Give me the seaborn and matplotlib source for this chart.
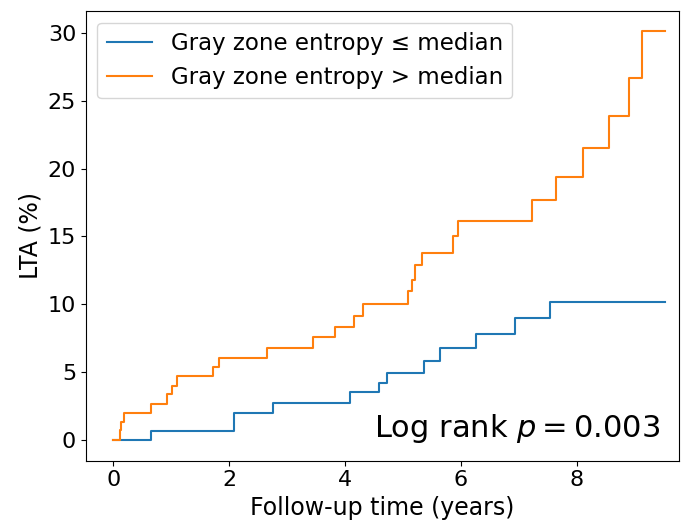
import matplotlib
matplotlib.use("Agg")
import matplotlib.pyplot as plt
import seaborn as sns
import pandas as pd

# Step data (years, cumulative LTA %)
low_time = [0.0, 0.65, 2.09, 2.75, 4.09, 4.58, 4.73, 5.37, 5.64, 6.26, 6.93, 7.54, 9.52]
low_lta = [0.0, 0.65, 1.95, 2.7, 3.5, 4.2, 4.95, 5.85, 6.8, 7.8, 9.0, 10.2, 10.2]

high_time = [0.0, 0.11, 0.14, 0.18, 0.66, 0.93, 1.01, 1.10, 1.73, 1.82, 2.65, 3.44,
             3.83, 4.15, 4.31, 5.09, 5.15, 5.21, 5.32, 5.87, 5.95, 7.22, 7.63, 8.11,
             8.56, 8.90, 9.13, 9.52]
high_lta = [0.0, 0.7, 1.35, 2.0, 2.65, 3.35, 4.0, 4.7, 5.4, 6.05, 6.8, 7.55,
            8.3, 9.1, 10.0, 10.95, 11.8, 12.9, 13.8, 15.0, 16.1, 17.7, 19.4, 21.5,
            23.9, 26.7, 30.1, 30.1]

labels = ["Gray zone entropy \u2264 median", "Gray zone entropy > median"]
colors = ["#1f77b4", "#ff7f0e"]

df = pd.concat([
    pd.DataFrame({"time": low_time, "lta": low_lta, "group": labels[0]}),
    pd.DataFrame({"time": high_time, "lta": high_lta, "group": labels[1]}),
], ignore_index=True)

fig = plt.figure(figsize=(6.82, 5.30), dpi=100)
ax = fig.add_axes([0.126, 0.131, 0.8696, 0.848])

sns.lineplot(data=df, x="time", y="lta", hue="group", palette=colors,
             drawstyle="steps-post", estimator=None, sort=False, ax=ax,
             linewidth=1.5)

ax.set_xlim(-0.47, 9.76)
ax.set_ylim(-1.52, 31.6)
ax.set_xticks([0, 2, 4, 6, 8])
ax.set_yticks([0, 5, 10, 15, 20, 25, 30])
ax.tick_params(labelsize=16)
ax.set_xlabel("Follow-up time (years)", fontsize=17)
ax.set_ylabel("LTA (%)", fontsize=17)

ax.legend(loc="upper left", fontsize=16.5, title=None, framealpha=0.8,
          handlelength=2.0, borderaxespad=0.5)

ax.text(9.43, 0.25, "Log rank $p = 0.003$", ha="right", va="baseline", fontsize=22)

fig.savefig("out.png", dpi=100)
